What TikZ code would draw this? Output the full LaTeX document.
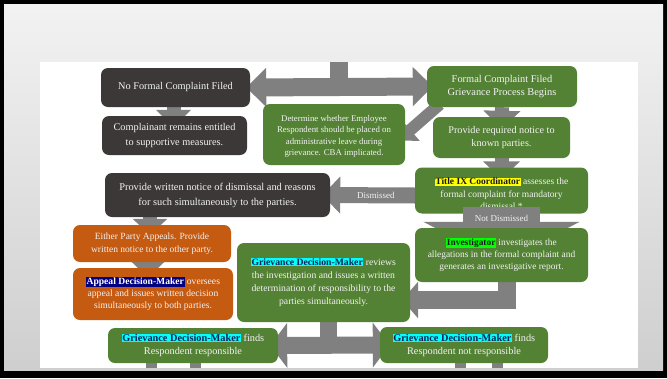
\documentclass[tikz,border=0pt]{standalone}
\usepackage{fontspec}
\setmainfont{Liberation Serif}
\usetikzlibrary{arrows.meta,calc}
\pgfdeclarelayer{background}
\pgfdeclarelayer{foreground}
\pgfsetlayers{background,main,foreground}

\definecolor{boxgreen}{HTML}{548235}
\definecolor{boxdark}{HTML}{3B3837}
\definecolor{boxorange}{HTML}{C55A11}
\definecolor{arrowgray}{HTML}{808080}
\definecolor{textwhite}{HTML}{F2F2F2}
\definecolor{hlyellow}{HTML}{FFFF00}
\definecolor{hlgreen}{HTML}{00FF00}
\definecolor{hlcyan}{HTML}{00FFFF}
\definecolor{hlnavy}{HTML}{000080}
\definecolor{inkdark}{HTML}{1A1A1A}
\definecolor{inknavy}{HTML}{0F2454}

% highlighted role names inside the box texts
\newcommand{\hilite}[3]{{\setlength{\fboxsep}{0.6pt}\colorbox{#1}{\textcolor{#2}{\bfseries #3}}}}
\newcommand{\setfs}[2]{\fontsize{#1}{#2}\selectfont}

\tikzset{
  flowbox/.style={rounded corners=7pt, text=textwhite, align=center, inner sep=1pt},
  darkbox/.style={flowbox, fill=boxdark},
  greenbox/.style={flowbox, fill=boxgreen},
  orangebox/.style={flowbox, fill=boxorange},
  grayarrow/.style={draw=arrowgray, line width=#1},
  arrowlabel/.style={text=textwhite, font=\setfs{9}{10}, inner sep=0pt},
}

\begin{document}
\begin{tikzpicture}[x=1pt, y=-1pt]
\useasboundingbox (0,0) rectangle (667,378);

% frame, page and slide
\begin{pgfonlayer}{background}
  \fill[black] (0,0) rectangle (667,378);
  \shade[top color=white!95!black, bottom color=white!81!black] (4,4) rectangle (663,370);
  \fill[white] (40,62) rectangle (638,368);
\end{pgfonlayer}

% ---------- boxes ----------
\node[darkbox, minimum width=149pt, minimum height=39pt, font=\setfs{10.3}{14}]
  (nofc) at (175.5,87.5) {No Formal Complaint Filed};
\node[darkbox, minimum width=145pt, minimum height=39pt, font=\setfs{10.3}{15}]
  (compl) at (174.5,135.5) {Complainant remains entitled\\to supportive measures.};
\node[greenbox, minimum width=142pt, minimum height=61pt, font=\setfs{8.8}{11.6}]
  (determ) at (334,134.5) {\rule{0pt}{10pt}Determine whether Employee\\Respondent should be placed on\\administrative leave during\\grievance. CBA implicated.};
\node[greenbox, minimum width=150pt, minimum height=41pt, font=\setfs{10.4}{12.7}]
  (formal) at (502,86.5) {Formal Complaint Filed\\Grievance Process Begins};
\node[greenbox, minimum width=137pt, minimum height=41pt, font=\setfs{10.2}{13}]
  (notice) at (501.5,137.5) {Provide required notice to\\known parties.};
\node[greenbox, minimum width=173pt, minimum height=46pt, font=\setfs{9.5}{12.5}]
  (title) at (501.5,190.5) {\rule{0pt}{14pt}\hilite{hlyellow}{inkdark}{Title IX Coordinator} assesses the\\formal complaint for mandatory\\dismissal *};
\node[darkbox, minimum width=225pt, minimum height=44pt, font=\setfs{10.4}{15}]
  (dismiss) at (217.5,195) {Provide written notice of dismissal and reasons\\for such simultaneously to the parties.};
\begin{pgfonlayer}{foreground}
\node[greenbox, minimum width=173pt, minimum height=54pt, font=\setfs{9.4}{12}]
  (invest) at (501.5,255) {\hilite{hlgreen}{inkdark}{Investigator} investigates the\\allegations in the formal complaint and\\generates an investigative report.};
\end{pgfonlayer}
\node[orangebox, minimum width=158pt, minimum height=37pt, font=\setfs{9.5}{12.5}]
  (appeals) at (152,243.5) {Either Party Appeals. Provide\\written notice to the other party.};
\node[orangebox, minimum width=160pt, minimum height=52pt, font=\setfs{9.6}{12}]
  (adm) at (153,294) {\hilite{hlnavy}{white}{Appeal Decision-Maker} oversees\\appeal and issues written decision\\simultaneously to both parties.};
\node[greenbox, minimum width=173pt, minimum height=79pt, font=\setfs{9.7}{13}]
  (gdm) at (323.5,282.5) {\hilite{hlcyan}{inknavy}{Grievance Decision-Maker} reviews\\the investigation and issues a written\\determination of responsibility to the\\parties simultaneously.};
\node[greenbox, minimum width=170pt, minimum height=35pt, font=\setfs{10.3}{13}]
  (resp) at (193,345.5) {\hilite{hlcyan}{inknavy}{Grievance Decision-Maker} finds\\Respondent responsible};
\node[greenbox, minimum width=168pt, minimum height=36pt, font=\setfs{10.3}{13}]
  (notresp) at (464,345) {\hilite{hlcyan}{inknavy}{Grievance Decision-Maker} finds\\Respondent not responsible};

% free ends of connectors
\coordinate (topin) at (339,62);
\coordinate (split) at (328.5,346);
\coordinate (s1) at (151,368);
\coordinate (s2) at (195.5,368);
\coordinate (s3) at (460.5,368);
\coordinate (s4) at (497,368);

% ---------- connectors behind the boxes ----------
\begin{pgfonlayer}{background}
  \draw[grayarrow=18pt] (topin) -- (topin |- nofc.east);
  \draw[grayarrow=18pt, {Triangle[length=20pt,width=38pt]}-{Triangle[length=20pt,width=38pt]}]
    ([xshift=-4pt]nofc.east) -- ([xshift=6pt]formal.west);
  \draw[grayarrow=12pt, -{Triangle[length=16pt,width=28pt]}]
    ([xshift=13pt,yshift=3pt]formal.south west) -- ([xshift=-7pt,yshift=-6pt]determ.east);
  \draw[grayarrow=14pt, -{Triangle[length=18pt,width=34pt]}]
    ([xshift=-2pt]nofc.south) -- ([xshift=-1pt,yshift=-12pt]compl.north);
  \draw[grayarrow=14pt, -{Triangle[length=18pt,width=36pt]}]
    (formal.south) -- ([yshift=-12pt]notice.north);
  \draw[grayarrow=14pt, -{Triangle[length=18pt,width=36pt]}]
    (notice.south) -- ([yshift=-12pt]title.north);
  \draw[grayarrow=16pt, -{Triangle[length=18pt,width=36pt]}]
    ([yshift=-5pt]title.west) -- ([xshift=-8pt]dismiss.east)
    node[arrowlabel, pos=0.42] {Dismissed};
  \draw[grayarrow=14pt, -{Triangle[length=16pt,width=34pt]}]
    ([xshift=-67.5pt]dismiss.south) -- ([xshift=-2pt,yshift=-10pt]appeals.north);
  \draw[grayarrow=14pt, -{Triangle[length=16pt,width=32pt]}]
    ([xshift=-4pt]appeals.south) -- ([xshift=-5pt,yshift=-10pt]adm.north);
  \draw[grayarrow=18pt, line join=miter, -{Triangle[length=16pt,width=36pt]}]
    ([xshift=5pt]invest.south) |- ([xshift=-8pt,yshift=-17.5pt]gdm.east);
  \draw[grayarrow=17pt] ([xshift=5pt]gdm.south) -- (split);
  \draw[grayarrow=17pt, {Triangle[length=17pt,width=44pt]}-{Triangle[length=17pt,width=44pt]}]
    ([xshift=-8pt]resp.east) -- ([xshift=10pt]notresp.west);
  \draw[grayarrow=11pt] (resp.south -| s1) -- (s1);
  \draw[grayarrow=11pt] (resp.south -| s2) -- (s2);
  \draw[grayarrow=11pt] (notresp.south -| s3) -- (s3);
  \draw[grayarrow=11pt] (notresp.south -| s4) -- (s4);
\end{pgfonlayer}

% this one lies over the foot of the coordinator box, under the investigator box
\draw[grayarrow=77pt, -{Triangle[length=40pt,width=155pt]}]
  ([yshift=7pt]title.south) -- ([yshift=-34pt]invest.north)
  node[arrowlabel, pos=0.22] {Not Dismissed};
\end{tikzpicture}
\end{document}
